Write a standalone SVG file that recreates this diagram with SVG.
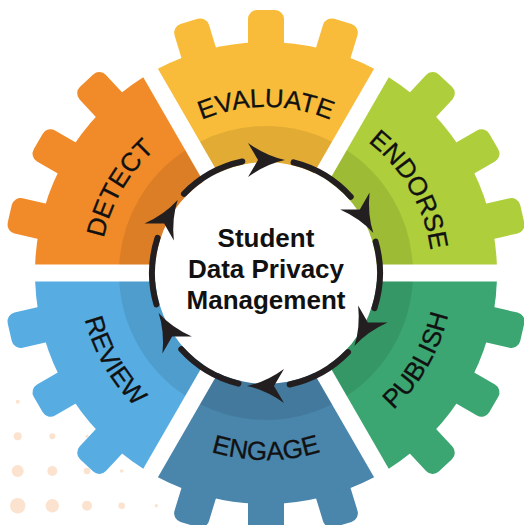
<svg xmlns="http://www.w3.org/2000/svg" xmlns:xlink="http://www.w3.org/1999/xlink" width="524" height="525" viewBox="0 0 524 525">
<style>
.lbl{font-family:"Liberation Sans",Arial,sans-serif;font-size:26px;fill:#111;stroke:#111;stroke-width:.3;text-anchor:middle;}
.ctr{font-family:"Liberation Sans",Arial,sans-serif;font-size:26px;font-weight:bold;fill:#111;text-anchor:middle;}
.shade{fill:#000;fill-opacity:.09;}
.dash{fill:none;stroke:#231F20;stroke-width:6;stroke-linecap:round;}
.head{fill:#231F20;}
.dot{fill:#FBE3CF;}
</style>
<defs>
<path id="tooth" d="M248 48 V19 A9 9 0 0 1 257 10 H275 A9 9 0 0 1 284 19 V48 Z"/>
<g id="gear">
<path d="M266 256 L374.08 68.85 A231 231 0 0 0 157.92 68.85 Z"/>
<use href="#tooth"/>
<use href="#tooth" transform="rotate(17 266 273)"/>
<use href="#tooth" transform="rotate(-17 266 273)"/>
</g>
<path id="shade" d="M266 256 L332.02 141.66 A147 147 0 0 0 199.98 141.66 Z"/>
<path id="arcTop" d="M102.52 244.17 A166 166 0 0 1 429.48 244.17" fill="none"/>
<path id="arcBot" d="M81.84 305.47 A187 187 0 0 0 450.16 305.47" fill="none"/>
<g id="seg">
<path class="dash" d="M293.58 162.39 A114 114 0 0 1 350.72 196.72"/>
<path class="head" transform="translate(266 159)" d="M19 1 Q0 -3 -18 -16 L-8 1 L-18 18 Q0 5 19 1 Z"/>
</g>
</defs>

<g id="dots">
<circle class="dot" cx="17.7" cy="401.7" r="2"/>
<circle class="dot" cx="17.7" cy="436.3" r="4"/>
<circle class="dot" cx="52.3" cy="436.3" r="3"/>
<circle class="dot" cx="87" cy="436.3" r="1.5"/>
<circle class="dot" cx="17.7" cy="471" r="6"/>
<circle class="dot" cx="52.3" cy="471" r="5"/>
<circle class="dot" cx="87" cy="471" r="3.3"/>
<circle class="dot" cx="121.7" cy="471" r="1.7"/>
<circle class="dot" cx="17.7" cy="505.7" r="7.7"/>
<circle class="dot" cx="52.3" cy="505.7" r="6.7"/>
<circle class="dot" cx="87" cy="505.7" r="5"/>
<circle class="dot" cx="121.7" cy="505.7" r="3.3"/>
<circle class="dot" cx="156.3" cy="505.7" r="1.7"/>
</g>

<g id="evaluate">
<use href="#gear" fill="#F8BC3A"/>
<use href="#shade" class="shade"/>
<text class="lbl"><textPath href="#arcTop" startOffset="50%">EVALUATE</textPath></text>
</g>
<g id="endorse">
<use href="#gear" fill="#AECE3B" transform="rotate(60 266 273)"/>
<use href="#shade" class="shade" transform="rotate(60 266 273)"/>
<text class="lbl" transform="rotate(60 266 273)"><textPath href="#arcTop" startOffset="50%">ENDORSE</textPath></text>
</g>
<g id="publish">
<use href="#gear" fill="#3BA671" transform="rotate(120 266 273)"/>
<use href="#shade" class="shade" transform="rotate(120 266 273)"/>
<text class="lbl" transform="rotate(-60 266 273)"><textPath href="#arcBot" startOffset="50%">PUBLISH</textPath></text>
</g>
<g id="engage">
<use href="#gear" fill="#4A85AC" transform="rotate(180 266 273)"/>
<use href="#shade" class="shade" transform="rotate(180 266 273)"/>
<text class="lbl"><textPath href="#arcBot" startOffset="50%">ENGAGE</textPath></text>
</g>
<g id="review">
<use href="#gear" fill="#57ADE2" transform="rotate(240 266 273)"/>
<use href="#shade" class="shade" transform="rotate(240 266 273)"/>
<text class="lbl" transform="rotate(60 266 273)"><textPath href="#arcBot" startOffset="50%">REVIEW</textPath></text>
</g>
<g id="detect">
<use href="#gear" fill="#F18B29" transform="rotate(300 266 273)"/>
<use href="#shade" class="shade" transform="rotate(300 266 273)"/>
<text class="lbl" transform="rotate(-60 266 273)"><textPath href="#arcTop" startOffset="50%">DETECT</textPath></text>
</g>

<g id="center">
<circle cx="266" cy="273" r="111" fill="#fff"/>
</g>

<g id="connectors">
<use href="#seg"/>
<use href="#seg" transform="rotate(60 266 273)"/>
<use href="#seg" transform="rotate(120 266 273)"/>
<use href="#seg" transform="rotate(180 266 273)"/>
<use href="#seg" transform="rotate(240 266 273)"/>
<use href="#seg" transform="rotate(300 266 273)"/>
</g>

<g id="center-label">
<text class="ctr" x="266" y="247">Student</text>
<text class="ctr" x="266" y="278">Data Privacy</text>
<text class="ctr" x="266" y="309">Management</text>
</g>
</svg>
